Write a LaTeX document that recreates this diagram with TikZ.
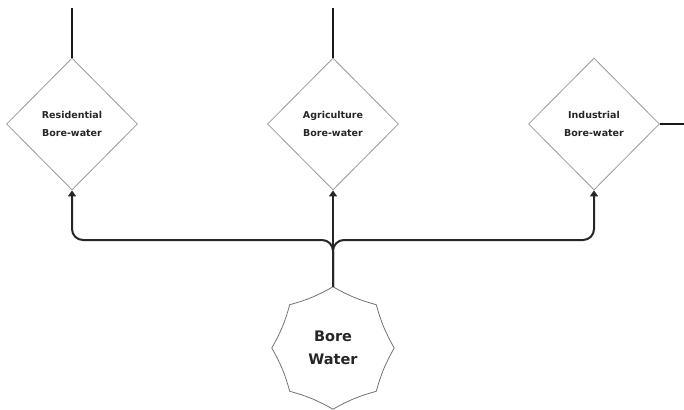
\documentclass[tikz,border=0pt]{standalone}
\usepackage{fontspec}
\setmainfont{DejaVu Sans}
\newfontfamily\lblfont{DejaVu Sans}
\usetikzlibrary{shapes.geometric,arrows.meta}
\begin{document}
\begin{tikzpicture}[x=1pt,y=-1pt,
  dia/.style={diamond, draw=black!40, line width=0.8pt, minimum width=131pt,
    minimum height=132pt, inner sep=0pt, align=center, text=black!85,
    font=\lblfont\bfseries\fontsize{9.5}{18}\selectfont},
  star/.style={circle, minimum size=122pt, inner sep=0pt, align=center, text=black!85,
    font=\lblfont\bfseries\fontsize{14.5}{23}\selectfont},
  starline/.style={draw=black!55, line width=0.8pt},
  conn/.style={line width=2pt, draw=black!85, rounded corners=11pt,
    -{Triangle[width=8pt,length=6pt]}},
  topline/.style={line width=2.6pt, draw=black!90},
]
\useasboundingbox (0,0) rectangle (684,409);

\node[dia] (res) at (72,124) {Residential\\Bore-water};
\node[dia] (agr) at (333,124) {Agriculture\\Bore-water};
\node[dia] (ind) at (594,124) {Industrial\\Bore-water};
\node[star] (bw) at (333,348) {Bore\\Water};

\draw[starline] (bw.north) to[bend left=7] (bw.north west)
  to[bend left=7] (bw.west) to[bend left=7] (bw.south west)
  to[bend left=7] (bw.south) to[bend left=7] (bw.south east)
  to[bend left=7] (bw.east) to[bend left=7] (bw.north east)
  to[bend left=7] (bw.north);

\coordinate (j) at (333,240);
\coordinate (rtop) at (72,8);
\coordinate (atop) at (333,8);
\coordinate (iend) at (684,124);

\draw[conn] (bw.north) -- (j) -| (res.south);
\draw[conn] (bw.north) -- (j) -| (ind.south);
\draw[conn] (bw.north) -- (agr.south);

\draw[topline] (res.north) -- (rtop);
\draw[topline] (agr.north) -- (atop);
\draw[topline, line width=2pt] (ind.east) -- (ind.east -| iend);
\end{tikzpicture}
\end{document}
